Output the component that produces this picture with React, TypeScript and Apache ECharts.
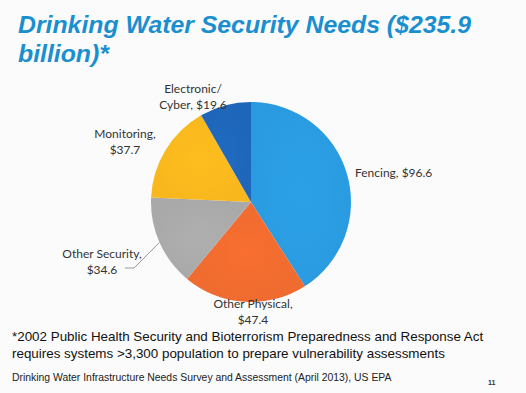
import React, { useEffect, useRef } from "react";
import * as echarts from "echarts";

const categories = ["Fencing", "Other Physical", "Other Security", "Monitoring", "Electronic/Cyber"];
const values = [96.6, 47.4, 34.6, 37.7, 19.6];
const colors = ["#2a9be0", "#ef6b2f", "#a9a9aa", "#f8b71d", "#1e66b9"];
const labelTexts = [
  "Fencing, $96.6",
  "Other Physical,\n$47.4",
  "Other Security,\n$34.6",
  "Monitoring,\n$37.7",
  "Electronic/\nCyber, $19.6",
];
const titleText = "Drinking Water Security Needs ($235.9\nbillion)*";
const footnoteText =
  "*2002 Public Health Security and Bioterrorism Preparedness and Response Act\nrequires systems >3,300 population to prepare vulnerability assessments";
const sourceText = "Drinking Water Infrastructure Needs Survey and Assessment (April 2013), US EPA";
const pageText = "11";

// label anchor layout (pixels)
const labelPos = [
  { x: 355, y: 172, align: "left" },
  { x: 253, y: 311, align: "center" },
  { x: 102, y: 261, align: "center" },
  { x: 125, y: 141, align: "center" },
  { x: 193, y: 96, align: "center" },
];

export default function App() {
  const ref = useRef<HTMLDivElement>(null);
  useEffect(() => {
    document.body.style.margin = "0";
    const chart = echarts.init(ref.current!, null, { renderer: "svg" });
    chart.setOption({
      animation: false,
      backgroundColor: "#fbfbfb",
      title: {
        text: titleText,
        left: 13,
        top: 5,
        textStyle: {
          fontFamily: "Liberation Sans, Arial, sans-serif",
          fontWeight: "bold",
          fontStyle: "italic",
          fontSize: 24.8,
          lineHeight: 29,
          color: "#1a8fcf",
        },
      },
      graphic: [
        {
          type: "text",
          left: 12,
          top: 328,
          style: {
            text: footnoteText,
            font: "13.4px 'Liberation Sans', Arial, sans-serif",
            lineHeight: 17,
            fill: "#111",
          },
        },
        {
          type: "text",
          left: 12,
          top: 372,
          style: {
            text: sourceText,
            font: "10.4px 'Liberation Sans', Arial, sans-serif",
            fill: "#222",
          },
        },
        {
          type: "text",
          left: 488,
          top: 379,
          style: {
            text: pageText,
            font: "bold 7px 'Liberation Sans', Arial, sans-serif",
            fill: "#333",
          },
        },
      ],
      series: [
        {
          type: "pie",
          center: [251, 202],
          radius: ["0%", 100],
          startAngle: 90,
          clockwise: true,
          avoidLabelOverlap: false,
          data: categories.map((c, i) => ({
            name: c,
            value: values[i],
            itemStyle: {
              color: {
                type: "radial",
                x: 0.5,
                y: 0.5,
                r: 0.5,
                colorStops: [
                  { offset: 0, color: echarts.color.lift(colors[i], -0.04) },
                  { offset: 1, color: colors[i] },
                ],
              },
            },
            labelLine: { show: i === 2 },
          })),
          label: {
            show: true,
            position: "outside",
            formatter: (p: any) => labelTexts[p.dataIndex],
            fontFamily: "Lato, 'Open Sans', sans-serif",
            fontSize: 12,
            lineHeight: 16,
            color: "#333",
          },
          labelLine: {
            show: true,
            length: 8,
            length2: 10,
            lineStyle: { color: "#999", width: 1 },
          },
          labelLayout: (p: any) => {
            const lp = labelPos[p.dataIndex];
            const res: any = {
              x: lp.x,
              y: lp.y,
              align: lp.align,
              verticalAlign: "middle",
              moveOverlap: false,
              hideOverlap: false,
            };
            if (p.dataIndex === 2 && p.labelLinePoints) {
              res.labelLinePoints = [p.labelLinePoints[0], [134, 268], [125, 268]];
            }
            return res;
          },
        },
      ],
    });
    return () => chart.dispose();
  }, []);
  return <div ref={ref} style={{ width: 526, height: 393 }} />;
}
